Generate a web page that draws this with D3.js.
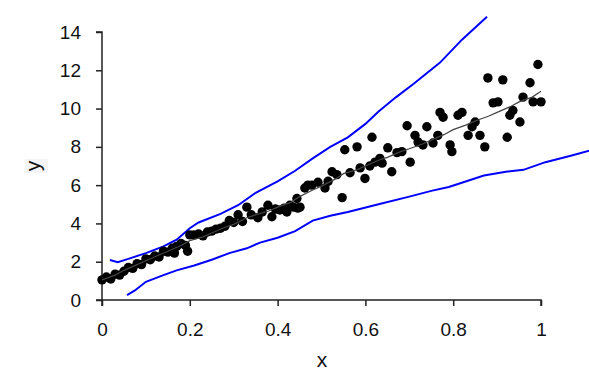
<!DOCTYPE html>
<html>
<head>
<meta charset="utf-8">
<script src="https://cdn.jsdelivr.net/npm/d3@7"></script>
<style>
  html, body { margin: 0; padding: 0; background: #fff; }
  svg { display: block; }
  text { font-family: "Liberation Sans", Arial, sans-serif; fill: #111; }
</style>
</head>
<body>
<svg id="chart" width="589" height="390"></svg>
<script>
// ---- data ----
const xTicks = [0, 0.2, 0.4, 0.6, 0.8, 1];
const yTicks = [0, 2, 4, 6, 8, 10, 12, 14];
const xLabel = "x";
const yLabel = "y";

const pointX = [0.00,0.01,0.02,0.03,0.04,0.05,0.06,0.07,0.08,0.09,0.10,0.11,0.12,0.13,0.14,0.15,0.16,0.165,0.17,0.18,0.19,0.195,0.20,0.21,0.22,0.23,0.24,0.25,0.26,0.27,0.28,0.29,0.30,0.31,0.32,0.33,0.34,0.355,0.365,0.378,0.387,0.395,0.405,0.415,0.421,0.428,0.436,0.444,0.446,0.451,0.462,0.469,0.478,0.492,0.508,0.515,0.524,0.535,0.547,0.553,0.565,0.581,0.588,0.599,0.61,0.615,0.622,0.633,0.638,0.651,0.66,0.672,0.683,0.695,0.702,0.713,0.72,0.731,0.74,0.754,0.765,0.77,0.777,0.793,0.797,0.811,0.82,0.834,0.843,0.85,0.861,0.872,0.879,0.891,0.902,0.913,0.923,0.929,0.936,0.952,0.959,0.975,0.982,0.993,1.0];
const pointY = [1.05,1.2,1.1,1.35,1.3,1.5,1.7,1.65,1.9,1.85,2.15,2.1,2.3,2.25,2.55,2.5,2.7,2.45,2.8,2.95,2.85,2.55,3.4,3.4,3.45,3.35,3.55,3.6,3.7,3.75,3.85,4.15,4.05,4.45,4.1,4.85,4.45,4.3,4.6,4.95,4.35,4.75,4.7,4.8,4.6,4.95,4.85,5.3,4.8,4.85,5.85,6.0,6.0,6.15,5.85,6.2,6.7,6.55,5.35,7.85,6.65,8.0,6.9,6.35,7.0,8.5,7.2,7.4,7.15,7.95,6.7,7.7,7.75,9.1,7.2,8.6,8.25,8.1,9.05,8.2,8.6,9.8,9.55,8.1,7.75,9.65,9.8,8.6,9.05,9.3,8.6,8.0,11.6,10.3,10.35,11.5,8.5,9.65,9.9,9.3,10.6,11.35,10.35,12.3,10.35];

const fitX = [0,0.03,0.05,0.08,0.1,0.13,0.15,0.18,0.2,0.23,0.25,0.28,0.3,0.33,0.35,0.38,0.4,0.43,0.45,0.48,0.5,0.53,0.55,0.58,0.6,0.63,0.65,0.68,0.7,0.73,0.75,0.78,0.8,0.83,0.85,0.88,0.9,0.93,0.95,0.98,1.0];
const fitY = [1.05,1.3,1.55,1.85,2.05,2.35,2.55,2.85,3.1,3.3,3.5,3.8,3.95,4.3,4.45,4.65,4.85,5.1,5.4,5.75,5.95,6.3,6.6,6.8,7.0,7.3,7.45,7.75,7.9,8.15,8.35,8.65,8.9,9.15,9.35,9.6,9.8,10.1,10.35,10.6,10.9];

const upperX = [0.018,0.036,0.06,0.1,0.14,0.17,0.2,0.22,0.27,0.31,0.35,0.4,0.44,0.48,0.52,0.56,0.6,0.63,0.67,0.71,0.77,0.82,0.877];
const upperY = [2.09,1.98,2.15,2.45,2.8,3.15,3.75,4.05,4.5,4.95,5.6,6.2,6.75,7.4,8.0,8.5,9.2,9.85,10.6,11.3,12.4,13.6,14.8];

const lowerX = [0.057,0.075,0.1,0.14,0.17,0.21,0.25,0.29,0.33,0.36,0.4,0.44,0.48,0.52,0.56,0.63,0.7,0.75,0.79,0.83,0.87,0.92,0.96,1.01,1.07,1.11];
const lowerY = [0.26,0.5,0.95,1.3,1.55,1.8,2.1,2.45,2.7,3.0,3.25,3.6,4.15,4.4,4.6,5.0,5.4,5.7,5.9,6.2,6.5,6.7,6.8,7.2,7.55,7.8];

// ---- chart ----
const svg = d3.select("#chart");
const x = d3.scaleLinear().domain([0, 1]).range([102, 541]);
const y = d3.scaleLinear().domain([0, 14]).range([300, 32]);

const zip = (a, b) => a.map((v, i) => [v, b[i]]);
const line = d3.line().x(d => x(d[0])).y(d => y(d[1]));

// axes
const xAxis = svg.append("g").attr("transform", "translate(0,300)")
  .call(d3.axisBottom(x).tickValues(xTicks).tickFormat(d3.format("")).tickSize(6).tickPadding(17));
const yAxis = svg.append("g").attr("transform", "translate(102,0)")
  .call(d3.axisLeft(y).tickValues(yTicks).tickFormat(d3.format("")).tickSize(6).tickPadding(15));
[xAxis, yAxis].forEach(g => {
  g.select(".domain").attr("stroke", "#222").attr("stroke-width", 1.5);
  g.selectAll(".tick line").attr("stroke", "#222").attr("stroke-width", 1.5);
  g.selectAll(".tick text").attr("font-size", 19).attr("fill", "#111")
    .attr("font-family", "'Liberation Sans', Arial, sans-serif");
});
xAxis.select(".domain").attr("d", "M102,6V0H541V6");
yAxis.select(".domain").attr("d", "M-6,32H0V300H-6");

// axis labels
svg.append("text").attr("x", 322).attr("y", 367).attr("text-anchor", "middle")
  .attr("font-size", 21).text(xLabel);
svg.append("rect").attr("x", 25).attr("y", 159).attr("width", 23).attr("height", 14).attr("fill", "#f4f4f4");
svg.append("text").attr("transform", "translate(40,166) rotate(-90)").attr("text-anchor", "middle")
  .attr("font-size", 21).text(yLabel);

// blue bands
svg.append("path").datum(zip(upperX, upperY)).attr("d", line)
  .attr("fill", "none").attr("stroke", "#0000ff").attr("stroke-width", 2);
svg.append("path").datum(zip(lowerX, lowerY)).attr("d", line)
  .attr("fill", "none").attr("stroke", "#0000ff").attr("stroke-width", 2);

// points
svg.append("g").selectAll("circle").data(zip(pointX, pointY)).join("circle")
  .attr("cx", d => x(d[0])).attr("cy", d => y(d[1])).attr("r", 4.7).attr("fill", "#000");

// fit line
svg.append("path").datum(zip(fitX, fitY)).attr("d", line)
  .attr("fill", "none").attr("stroke", "#444").attr("stroke-width", 1.2);
</script>
</body>
</html>
